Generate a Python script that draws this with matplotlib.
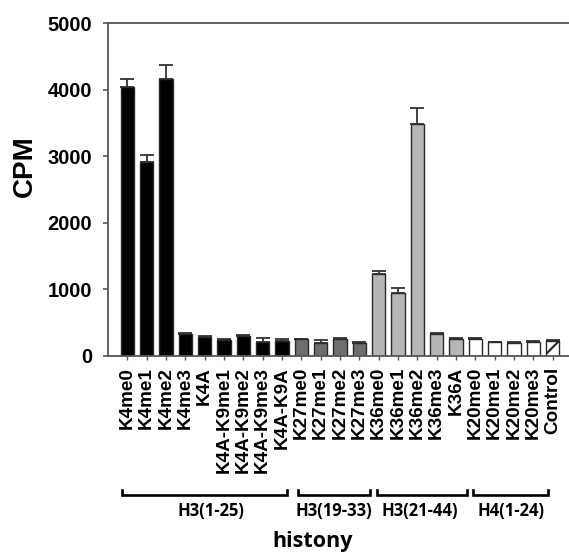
import matplotlib
matplotlib.use("Agg")
import matplotlib.pyplot as plt
from matplotlib.transforms import blended_transform_factory

# ---- data ----
categories = ["K4me0", "K4me1", "K4me2", "K4me3", "K4A", "K4A-K9me1", "K4A-K9me2",
              "K4A-K9me3", "K4A-K9A", "K27me0", "K27me1", "K27me2", "K27me3",
              "K36me0", "K36me1", "K36me2", "K36me3", "K36A",
              "K20me0", "K20me1", "K20me2", "K20me3", "Control"]
cpm = [4040, 2905, 4158, 331, 286, 240, 296, 205, 215, 245, 195, 250, 190,
       1227, 942, 3487, 326, 250, 255, 200, 195, 210, 225]
cpm_err = [122, 110, 216, 12, 12, 10, 22, 55, 30, 12, 35, 12, 20,
           50, 70, 230, 10, 10, 10, 8, 8, 8, 10]
group_names = ["H3(1-25)", "H3(19-33)", "H3(21-44)", "H4(1-24)"]
group_first = [0, 9, 13, 18]
group_last = [8, 12, 17, 21]
y_ticks = [0, 1000, 2000, 3000, 4000, 5000]
y_label = "CPM"
x_label = "histony"

# ---- style ----
group_colors = ["#000000", "#6e6e6e", "#b6b6b6", "#ffffff"]
control_color = "#ffffff"
bracket_span = [(-0.29, 8.28), (8.81, 12.55), (12.9, 17.56), (17.87, 21.78)]
label_offset = [0.35, 0.0, -0.1, 0.0]

plt.rcParams["hatch.linewidth"] = 1.6
fig = plt.figure(figsize=(5.69, 5.56), dpi=100)
ax = fig.add_axes([0.1898, 0.3603, 0.8102, 0.5983])

colors = []
for gi in range(len(group_names)):
    colors += [group_colors[gi]] * (group_last[gi] - group_first[gi] + 1)
colors += [control_color]

x = list(range(len(categories)))
bars = ax.bar(x, cpm, width=0.69, color=colors, edgecolor="#2a2a2a", linewidth=1.0, zorder=2)
bars[-1].set_hatch("/")
ax.errorbar(x, cpm, yerr=[[0] * len(cpm), cpm_err], fmt="none", ecolor="#333333",
            elinewidth=1.3, capsize=5, capthick=1.3, zorder=1)

ax.set_ylim(0, 5000)
ax.set_xlim(-1.0, 22.85)
ax.set_yticks(y_ticks)
ax.set_xticks(x)
ax.set_xticklabels(categories, rotation=90, fontfamily="Liberation Sans",
                   fontweight="bold", fontsize=13.6)
for lab in ax.get_yticklabels():
    lab.set_fontfamily("Liberation Sans")
    lab.set_fontweight("bold")
    lab.set_fontsize(14.5)
ax.tick_params(axis="y", direction="out", length=3.6, width=1.2, color="#555555", pad=8)
ax.tick_params(axis="x", direction="out", length=3.0, width=1.0, color="#555555", pad=5)
for s in ["left", "bottom", "top"]:
    ax.spines[s].set_color("#555555")
    ax.spines[s].set_linewidth(1.3)
ax.spines["right"].set_visible(False)

fig.text(0.043, 1 - 166 / 556, y_label, rotation=90, ha="center", va="center",
         fontfamily="Liberation Sans", fontweight="bold", fontsize=20)

tr = blended_transform_factory(ax.transData, fig.transFigure)
yb = 1 - 495 / 556
yt = 1 - 490 / 556
for name, (a, b), off in zip(group_names, bracket_span, label_offset):
    ax.plot([a, a, b, b], [yt, yb, yb, yt], transform=tr, color="black", lw=1.9,
            clip_on=False, solid_joinstyle="miter")
    ax.text((a + b) / 2 + off, 1 - 511 / 556, name, transform=tr, ha="center", va="center",
            fontfamily="Open Sans", fontweight="bold", fontsize=12)

fig.text(312.5 / 569, 1 - 542 / 556, x_label, ha="center", va="center",
         fontfamily="Open Sans", fontweight="bold", fontsize=15.5)

fig.savefig("out.png", dpi=100)
